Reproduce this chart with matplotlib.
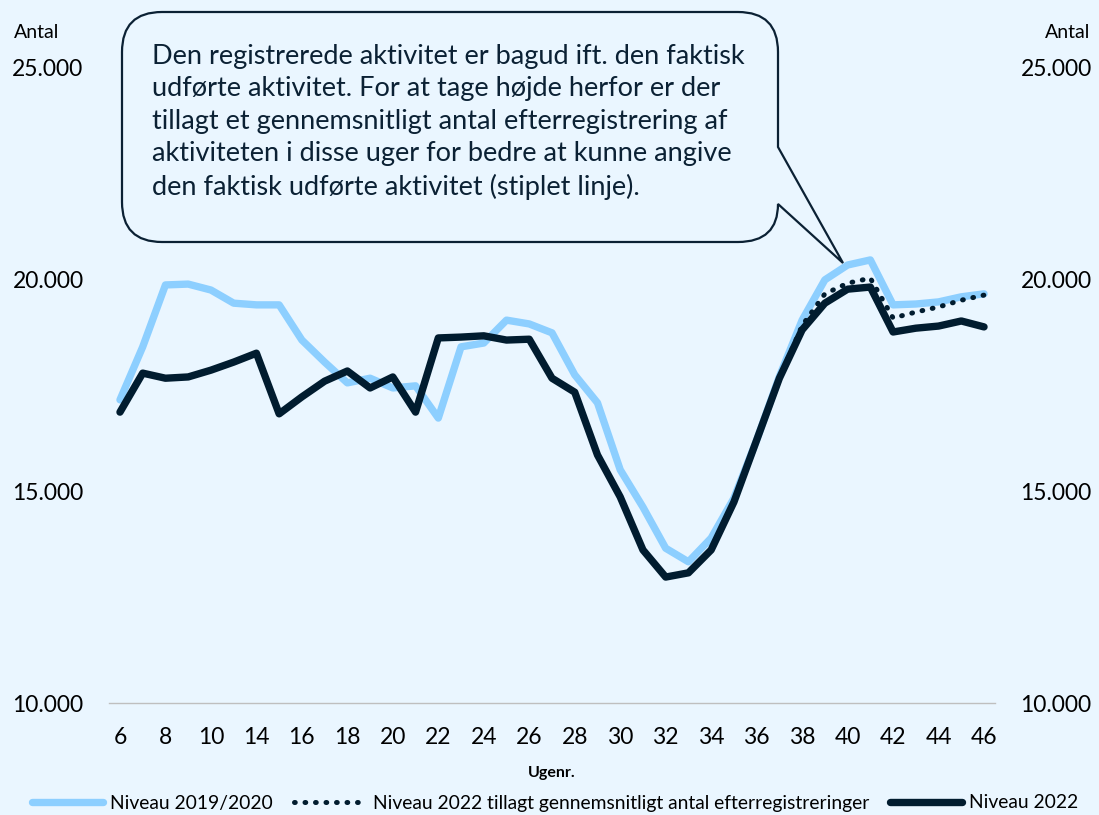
import matplotlib
matplotlib.use("Agg")
import matplotlib.pyplot as plt
from matplotlib.path import Path
from matplotlib.patches import PathPatch
from matplotlib.ticker import FuncFormatter
import numpy as np

plt.rcParams['font.family'] = ['Lato', 'DejaVu Sans']

# week numbers on the category axis (weeks 12 and 13 are not in the series)
weeks = [6, 7, 8, 9, 10, 11] + list(range(14, 47))

niveau_2019 = [17150, 18400, 19860, 19880, 19740, 19430, 19390, 19390, 18560, 18040,
               17550, 17660, 17430, 17480, 16720, 18400, 18490, 19030, 18940, 18730,
               17740, 17080, 15500, 14620, 13650, 13330, 13890, 14830, 16200, 17700,
               19030, 19980, 20330, 20450, 19390, 19410, 19460, 19580, 19650]

niveau_2022 = [16860, 17780, 17660, 17690, 17850, 18040, 18250, 16820, 17220, 17590,
               17830, 17430, 17690, 16860, 18610, 18630, 18660, 18560, 18580, 17660,
               17330, 15850, 14860, 13610, 12970, 13070, 13610, 14740, 16200, 17660,
               18800, 19430, 19760, 19810, 18750, 18840, 18890, 19010, 18870]

# 2022 incl. average late registrations (only the last weeks)
niveau_2022_tillagt = [None] * 29 + [17660, 18900, 19650, 19900, 20020, 19080, 19220,
                                     19340, 19500, 19620]

callout = ("Den registrerede aktivitet er bagud ift. den faktisk\n"
           "udførte aktivitet. For at tage højde herfor er der\n"
           "tillagt et gennemsnitligt antal efterregistrering af\n"
           "aktiviteten i disse uger for bedre at kunne angive\n"
           "den faktisk udførte aktivitet (stiplet linje).")

bg = '#EAF6FF'
light = '#8DCFFF'
dark = '#011C2F'

W, H = 1099, 815
fig = plt.figure(figsize=(W / 100, H / 100), dpi=100, facecolor=bg)
ax = fig.add_axes([108.6 / W, 1 - 703 / H, (995.4 - 108.6) / W, (703 - 67) / H])
ax.set_facecolor(bg)

x = np.arange(len(weeks))
dotted = np.array([np.nan if v is None else v for v in niveau_2022_tillagt], dtype=float)

ax.plot(x, niveau_2019, color=light, lw=5.3, solid_capstyle='round', solid_joinstyle='round',
        label='Niveau 2019/2020', zorder=2)
ax.plot(x, dotted, color=dark, lw=3.6, linestyle=(0, (0.15, 1.95)), dash_capstyle='round',
        label='Niveau 2022 tillagt gennemsnitligt antal efterregistreringer', zorder=3)
ax.plot(x, niveau_2022, color=dark, lw=5.3, solid_capstyle='round', solid_joinstyle='round',
        label='Niveau 2022', zorder=2.5)

ax.set_xlim(-0.5, len(weeks) - 0.5)
ax.set_ylim(10000, 25000)
ax.set_xticks(x[::2])
ax.set_xticklabels([str(w) for w in weeks[::2]])
fmt = FuncFormatter(lambda v, p: f"{int(v):,}".replace(",", "."))
ax.set_yticks([10000, 15000, 20000, 25000])
ax.yaxis.set_major_formatter(fmt)
ax.tick_params(axis='both', length=0, labelsize=16.5, colors='black')
ax.tick_params(axis='y', pad=18)
ax.tick_params(axis='x', pad=17)
for s in ['top', 'left', 'right']:
    ax.spines[s].set_visible(False)
ax.spines['bottom'].set_color('#BFBFBF')
ax.spines['bottom'].set_linewidth(1)

ax2 = ax.twinx()
ax2.set_ylim(10000, 25000)
ax2.set_yticks([10000, 15000, 20000, 25000])
ax2.yaxis.set_major_formatter(fmt)
ax2.tick_params(axis='y', length=0, labelsize=16.5, pad=18)
for s in ax2.spines.values():
    s.set_visible(False)

fig.text(14 / W, 1 - 33 / H, 'Antal', fontsize=14, ha='left', va='center')
fig.text(1090 / W, 1 - 33 / H, 'Antal', fontsize=14, ha='right', va='center')
fig.text(552 / W, 1 - 773 / H, 'Ugenr.', fontsize=11.5, fontweight='bold', ha='center', va='center')

fig.legend(loc='center', bbox_to_anchor=(555 / W, 1 - 803 / H), ncol=3, frameon=False,
           fontsize=13.9, handlelength=3.7, handletextpad=0.36, columnspacing=1.1,
           borderaxespad=0, borderpad=0)

# speech bubble
def P(px, py):
    return (px / W, 1 - py / H)

l, r, t, b, rad = 122, 778, 12, 242, 40
verts = [P(l + rad, t), P(r - rad, t), P(r, t), P(r, t + rad), P(r, 147), P(843, 263),
         P(r, 204), P(r, b), P(r - rad, b), P(l + rad, b), P(l, b), P(l, b - rad),
         P(l, t + rad), P(l, t), P(l + rad, t), P(l + rad, t)]
codes = [Path.MOVETO, Path.LINETO, Path.CURVE3, Path.CURVE3, Path.LINETO, Path.LINETO,
         Path.LINETO, Path.CURVE3, Path.CURVE3, Path.LINETO, Path.CURVE3, Path.CURVE3,
         Path.LINETO, Path.CURVE3, Path.CURVE3, Path.CLOSEPOLY]
bubble = PathPatch(Path(verts, codes), facecolor=bg, edgecolor='#0B2134', lw=1.6,
                   transform=fig.transFigure, zorder=5)
fig.patches.append(bubble)
fig.text(152 / W, 1 - 122 / H, callout, fontsize=19.5, ha='left', va='center',
         linespacing=1.38, color='#0B2134', zorder=6)

fig.savefig('out.png', dpi=100, facecolor=bg)
